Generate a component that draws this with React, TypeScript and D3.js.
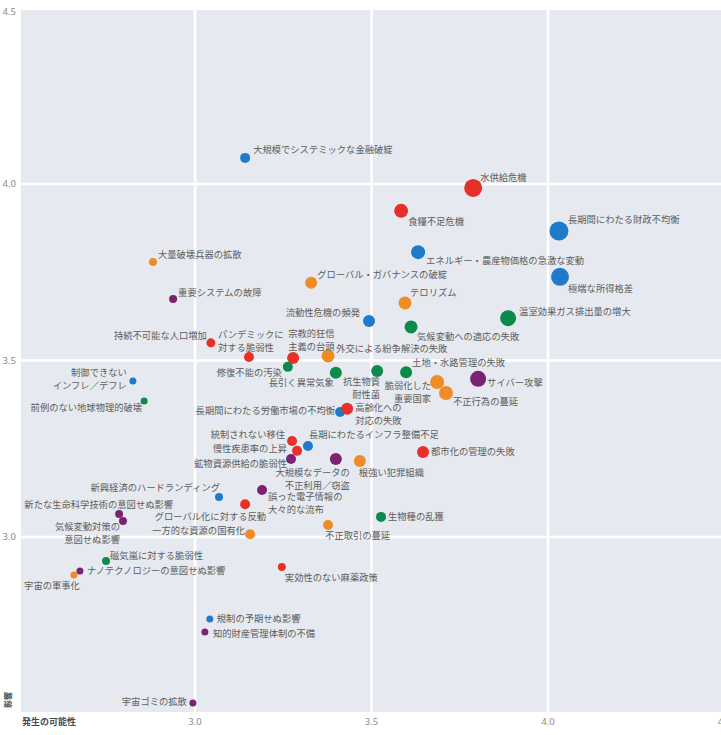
import React from "react";
import * as d3 from "d3";

const W = 721;
const H = 735;

// Risk names (line breaks with \n)
const names: string[] = [
  "大規模でシステミックな金融破綻",
  "水供給危機",
  "食糧不足危機",
  "長期間にわたる財政不均衡",
  "エネルギー・農産物価格の急激な変動",
  "極端な所得格差",
  "グローバル・ガバナンスの破綻",
  "テロリズム",
  "温室効果ガス排出量の増大",
  "気候変動への適応の失敗",
  "流動性危機の頻発",
  "大量破壊兵器の拡散",
  "重要システムの故障",
  "持続不可能な人口増加",
  "パンデミックに\n対する脆弱性",
  "宗教的狂信\n主義の台頭",
  "外交による紛争解決の失敗",
  "修復不能の汚染",
  "長引く異常気象",
  "抗生物質\n耐性菌",
  "土地・水路管理の失敗",
  "脆弱化した\n重要国家",
  "不正行為の蔓延",
  "サイバー攻撃",
  "長期間にわたる労働市場の不均衡",
  "高齢化への\n対応の失敗",
  "統制されない移住",
  "長期にわたるインフラ整備不足",
  "慢性疾患率の上昇",
  "鉱物資源供給の脆弱性",
  "大規模なデータの\n不正利用／窃盗",
  "根強い犯罪組織",
  "都市化の管理の失敗",
  "誤った電子情報の\n大々的な流布",
  "新興経済のハードランディング",
  "グローバル化に対する反動",
  "生物種の乱獲",
  "不正取引の蔓延",
  "一方的な資源の国有化",
  "新たな生命科学技術の意図せぬ影響",
  "気候変動対策の\n意図せぬ影響",
  "磁気嵐に対する脆弱性",
  "ナノテクノロジーの意図せぬ影響",
  "宇宙の軍事化",
  "実効性のない麻薬政策",
  "規制の予期せぬ影響",
  "知的財産管理体制の不備",
  "宇宙ゴミの拡散",
  "制御できない\nインフレ／デフレ",
  "前例のない地球物理的破壊",
];

const categories: string[] = [
  "経済", "社会", "社会", "経済", "経済", "経済", "地政学", "地政学", "環境", "環境",
  "経済", "地政学", "技術", "社会", "社会", "社会", "地政学", "環境", "環境", "環境",
  "環境", "地政学", "地政学", "技術", "経済", "社会", "社会", "経済", "社会", "技術",
  "技術", "地政学", "社会", "技術", "経済", "社会", "環境", "地政学", "地政学", "技術",
  "技術", "環境", "技術", "地政学", "社会", "経済", "技術", "技術", "経済", "環境",
];

// 発生の可能性 (likelihood)
const likelihood: number[] = [
  3.142, 3.788, 3.584, 4.031, 3.632, 4.034, 3.329, 3.595, 3.887, 3.612,
  3.493, 2.881, 2.938, 3.045, 3.153, 3.278, 3.377, 3.263, 3.399, 3.516,
  3.598, 3.686, 3.711, 3.802, 3.411, 3.431, 3.275, 3.320, 3.289, 3.272,
  3.399, 3.467, 3.646, 3.190, 3.068, 3.142, 3.527, 3.377, 3.156, 2.785,
  2.796, 2.748, 2.674, 2.657, 3.246, 3.042, 3.028, 2.994, 2.824, 2.856,
];

// 影響 (impact)
const impact: number[] = [
  4.074, 3.989, 3.924, 3.867, 3.807, 3.737, 3.720, 3.663, 3.620, 3.595,
  3.612, 3.779, 3.674, 3.550, 3.510, 3.507, 3.513, 3.482, 3.465, 3.470,
  3.467, 3.439, 3.408, 3.448, 3.354, 3.363, 3.272, 3.258, 3.244, 3.221,
  3.221, 3.215, 3.241, 3.133, 3.113, 3.093, 3.057, 3.034, 3.008, 3.065,
  3.045, 2.932, 2.904, 2.892, 2.915, 2.768, 2.731, 2.530, 3.442, 3.385,
];

// relative bubble weight
const weight: number[] = [
  5, 9, 7, 9.5, 7, 9, 6, 6.5, 8, 6.5,
  6, 4, 4, 4.5, 5, 6, 6.5, 5, 6, 6,
  6, 7, 7, 8, 5, 6, 5, 5, 5, 5,
  6, 6, 6, 5, 4, 5, 5, 5, 5, 4,
  4, 4, 3.5, 3.5, 4, 3.5, 3.5, 3.5, 3.5, 3.5,
];

const xTicks: number[] = [3.0, 3.5, 4.0, 4.5];
const yTicks: number[] = [3.0, 3.5, 4.0, 4.5];

const categoryNames = ["経済", "環境", "地政学", "社会", "技術"];
const categoryColors = ["#1f7bc9", "#0c8a4c", "#f08c25", "#e8302a", "#7b2370"];

// label layout: [dx, dy(first line centre), anchor]
const labelLayout: [number, number, string][] = [
  [8, -8, "start"], [7, -10, "start"], [7, 11, "start"], [9, -11, "start"], [8, 9, "start"],
  [8, 12, "start"], [6, -8, "start"], [5, -10, "start"], [11, -6, "start"], [6, 10, "start"],
  [-9, -8, "end"], [5, -7, "start"], [5, -6, "start"], [-4, -7, "end"], [-31, -22, "start"],
  [-5, -24, "start"], [8, -7, "start"], [-6, 6, "end"], [-2, 10, "end"], [3, 11, "end"],
  [6, -9, "start"], [-6, 4, "end"], [7, 9, "start"], [9, 4, "start"], [-5, -1, "end"],
  [8, -1, "start"], [-7, -6, "end"], [1, -11, "start"], [-10, -2, "end"], [-4, 5, "end"],
  [14, 14, "end"], [-1, 12, "start"], [8, 0, "start"], [6, 7, "start"], [1, -9, "end"],
  [21, 13, "end"], [7, 0, "start"], [-3, 11, "start"], [-5, -3, "end"], [54, -9, "end"],
  [-3, 6, "end"], [4, -5, "start"], [7, 0, "start"], [6, 11, "end"], [3, 11, "start"],
  [7, 0, "start"], [8, 2, "start"], [-6, -1, "end"], [-6, -8, "end"], [-2, 7, "end"],
];

const PLOT = { left: 21, right: 721, top: 10, bottom: 712 };

export default function App() {
  const x = d3.scaleLinear().domain([2.5, 4.5]).range([18.5, 724.5]);
  const y = d3.scaleLinear().domain([2.5, 4.5]).range([713.5, 7.5]);
  const r = d3.scaleLinear().domain([0, 10]).range([0, 10]);
  const color = d3.scaleOrdinal<string, string>().domain(categoryNames).range(categoryColors);

  const data = names.map((n, i) => ({
    name: n,
    cat: categories[i],
    lx: likelihood[i],
    iy: impact[i],
    w: weight[i],
    layout: labelLayout[i],
  }));

  const lineH = 12.5;
  const font = "'Noto Sans CJK JP', 'Noto Sans', sans-serif";

  return (
    <svg
      width={W}
      height={H}
      style={{ position: "absolute", left: 0, top: 0, background: "#ffffff" }}
    >
      <rect x={0} y={0} width={W} height={H} fill="#ffffff" />
      <defs>
        <clipPath id="plotclip">
          <rect x={PLOT.left} y={PLOT.top} width={PLOT.right - PLOT.left} height={PLOT.bottom - PLOT.top} />
        </clipPath>
      </defs>
      <rect
        x={PLOT.left}
        y={PLOT.top}
        width={PLOT.right - PLOT.left}
        height={PLOT.bottom - PLOT.top}
        fill="#e6eaf0"
      />
      <g clipPath="url(#plotclip)">
        {xTicks.map((t) => (
          <line key={"gx" + t} x1={x(t)} x2={x(t)} y1={PLOT.top} y2={PLOT.bottom} stroke="#ffffff" strokeWidth={2.5} />
        ))}
        {yTicks.map((t) => (
          <line key={"gy" + t} x1={PLOT.left} x2={PLOT.right} y1={y(t)} y2={y(t)} stroke="#ffffff" strokeWidth={2.5} />
        ))}
      </g>
      {/* tick labels */}
      {yTicks.map((t) => (
        <text
          key={"ty" + t}
          x={16}
          y={Math.max(y(t), 12)}
          dy="0.35em"
          textAnchor="end"
          fontSize={9.5}
          fill="#8a8a8a"
          fontFamily="'Noto Sans', sans-serif"
        >
          {t.toFixed(1)}
        </text>
      ))}
      {xTicks.map((t) => (
        <text
          key={"tx" + t}
          x={x(t)}
          y={722}
          dy="0.35em"
          textAnchor="middle"
          fontSize={9.5}
          fill="#8a8a8a"
          fontFamily="'Noto Sans', sans-serif"
        >
          {t.toFixed(1)}
        </text>
      ))}
      <text x={22} y={722} dy="0.35em" fontSize={9} fontWeight="bold" fill="#4a4a4a" fontFamily={font}>
        発生の可能性
      </text>
      <text
        transform="translate(8,700) rotate(-90)"
        textAnchor="middle"
        dy="0.35em"
        fontSize={8}
        fontWeight="bold"
        fill="#4a4a4a"
        fontFamily={font}
      >
        影響
      </text>
      {/* bubbles */}
      <g>
        {data.map((d, i) => (
          <circle key={"c" + i} cx={x(d.lx)} cy={y(d.iy)} r={r(d.w)} fill={color(d.cat)} />
        ))}
      </g>
      {/* labels */}
      <g fontFamily={font} fontSize={9.3} fill="#5c5c5c">
        {data.map((d, i) => {
          const [dx, dy, anchor] = d.layout;
          const lines = d.name.split("\n");
          return (
            <text key={"l" + i} textAnchor={anchor as any}>
              {lines.map((ln, j) => (
                <tspan key={j} x={x(d.lx) + dx} y={y(d.iy) + dy + j * lineH} dy="0.35em">
                  {ln}
                </tspan>
              ))}
            </text>
          );
        })}
      </g>
    </svg>
  );
}
